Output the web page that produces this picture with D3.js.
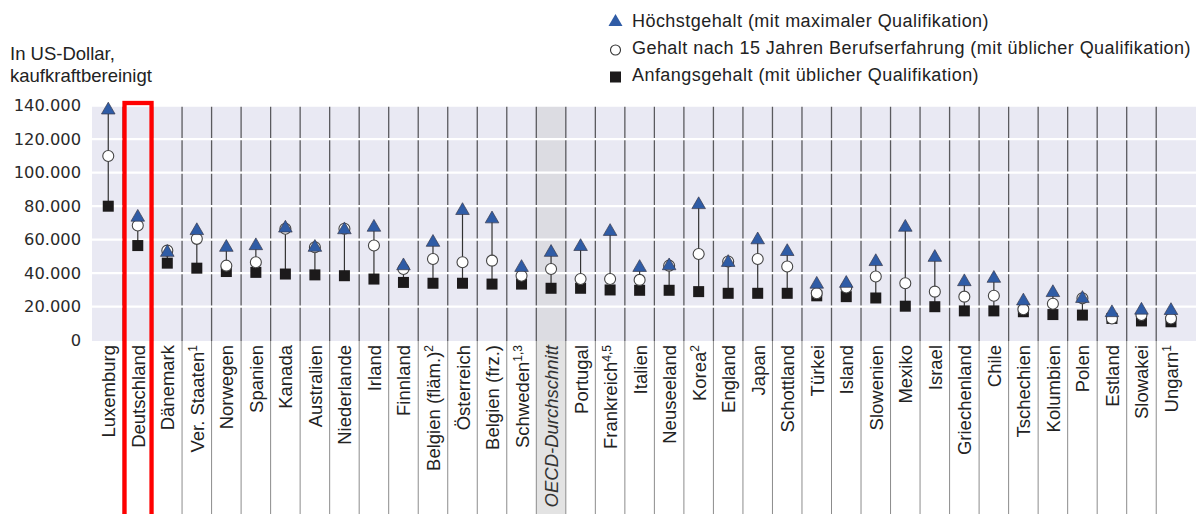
<!DOCTYPE html>
<html>
<head>
<meta charset="utf-8">
<script src="https://cdn.jsdelivr.net/npm/d3@7"></script>
<style>
  body { margin: 0; background: #fff; }
  text { font-family: "Liberation Sans", Arial, sans-serif; fill: #222; }
</style>
</head>
<body>
<div id="chart"></div>
<script>
// data
var countries = ["Luxemburg", "Deutschland", "Dänemark", "Ver. Staaten", "Norwegen", "Spanien", "Kanada",
  "Australien", "Niederlande", "Irland", "Finnland", "Belgien  (fläm.)", "Österreich", "Belgien (frz.)",
  "Schweden", "OECD-Durchschnitt", "Portugal", "Frankreich", "Italien", "Neuseeland", "Korea", "England",
  "Japan", "Schottland", "Türkei", "Island", "Slowenien", "Mexiko", "Israel", "Griechenland", "Chile",
  "Tschechien", "Kolumbien", "Polen", "Estland", "Slowakei", "Ungarn"];
var notes = ["", "", "", "1", "", "", "", "", "", "", "", "2", "", "", "1,3", "", "", "4,5", "", "", "2", "",
  "", "", "", "", "", "", "", "", "", "", "", "", "", "", "1"];
var maxSalary = [138000, 74000, 53000, 66000, 56000, 57000, 67500, 56000, 66500, 68000, 45000, 59000, 78000,
  73000, 44000, 53000, 56500, 65500, 44000, 45000, 81500, 47000, 60500, 53500, 34000, 34500, 47500, 68000,
  50000, 35500, 37500, 24000, 29000, 25500, 17000, 18500, 18300];
var exp15Salary = [110000, 68500, 53500, 60500, 44500, 46500, 66500, 55500, 66500, 56500, 42500, 48500, 46500,
  47500, 38500, 42500, 36500, 36500, 36000, 44500, 51500, 47000, 48500, 44000, 28000, 31500, 38000, 34000,
  29000, 26000, 26500, 18500, 21800, 25000, 13000, 15000, 13000];
var startSalary = [80000, 56500, 46000, 43000, 41000, 40500, 39500, 39000, 38500, 36500, 34500, 34000, 34000,
  33500, 33500, 31000, 31000, 30000, 29800, 29800, 29000, 28000, 28000, 28000, 26500, 26000, 25200, 20300,
  20000, 17500, 17500, 17000, 15300, 15000, 13000, 11500, 11000];
var yTicks = [0, 20000, 40000, 60000, 80000, 100000, 120000, 140000];
var legendLabels = ["Höchstgehalt (mit maximaler Qualifikation)",
  "Gehalt nach 15 Jahren Berufserfahrung (mit üblicher Qualifikation)",
  "Anfangsgehalt (mit üblicher Qualifikation)"];
var highlight = "Deutschland";
var average = "OECD-Durchschnitt";

var width = 1199, height = 514;
var plotLeft = 92, plotRight = 1196, plotTop = 105, plotBottom = 341;

var svg = d3.select("#chart")
  .append("svg")
    .attr("width", width)
    .attr("height", height);

var x = d3.scaleBand()
  .domain(countries)
  .range([93.5, 93.5 + 37 * 29.52]);

var y = d3.scaleLinear()
  .domain([0, 140000])
  .range([340.2, 105.7]);

var de = d3.formatLocale({decimal: ",", thousands: ".", grouping: [3], currency: ["", ""]});
var fmt = de.format(",");

// background
svg.append("rect")
  .attr("x", plotLeft).attr("y", plotTop)
  .attr("width", plotRight - plotLeft).attr("height", plotBottom - plotTop)
  .style("fill", "#e9e9f3");

// OECD column shading
svg.append("rect")
  .attr("x", x(average)).attr("y", plotTop)
  .attr("width", x.bandwidth()).attr("height", plotBottom - plotTop)
  .style("fill", "#dcdce2");
svg.append("rect")
  .attr("x", x(average)).attr("y", plotBottom)
  .attr("width", x.bandwidth()).attr("height", height - plotBottom)
  .style("fill", "#e3e3e3");

// column separators
var seps = countries.slice(1);
svg.append("g").selectAll("line.sep")
  .data(seps)
  .enter()
  .append("line")
    .attr("x1", function(d) { return x(d); })
    .attr("x2", function(d) { return x(d); })
    .attr("y1", plotTop)
    .attr("y2", plotBottom)
    .style("stroke", "#5a5a5e")
    .style("stroke-width", 1.3);
svg.append("g").selectAll("line.sep2")
  .data(seps)
  .enter()
  .append("line")
    .attr("x1", function(d) { return x(d); })
    .attr("x2", function(d) { return x(d); })
    .attr("y1", plotBottom)
    .attr("y2", height)
    .style("stroke", "#8c8c8c")
    .style("stroke-width", 1);

// gridlines
svg.append("g").selectAll("line.grid")
  .data(yTicks.slice(1))
  .enter()
  .append("line")
    .attr("x1", plotLeft).attr("x2", plotRight)
    .attr("y1", function(d) { return y(d); })
    .attr("y2", function(d) { return y(d); })
    .style("stroke", "#fff")
    .style("stroke-width", 2.2);

// y axis
var yAxis = svg.append("g")
  .attr("transform", "translate(81,0)")
  .call(d3.axisLeft(y).tickValues(yTicks).tickFormat(fmt).tickSize(0).tickPadding(0));
yAxis.select(".domain").remove();
yAxis.selectAll("text")
  .style("font-family", "'DejaVu Sans', sans-serif")
  .style("font-size", "16.3px")
  .style("fill", "#2a2a2a");

svg.append("text").attr("x", 10).attr("y", 60)
  .style("font-size", "18.5px").text("In US-Dollar,");
svg.append("text").attr("x", 10).attr("y", 82)
  .style("font-size", "18.5px").text("kaufkraftbereinigt");

// x labels
var labels = svg.append("g").selectAll("text.lab")
  .data(countries)
  .enter()
  .append("text")
    .attr("transform", function(d) {
      return "translate(" + (x(d) + x.bandwidth() / 2 + 7) + ",345) rotate(-90)";
    })
    .attr("text-anchor", "end")
    .style("font-size", "18.5px")
    .style("font-style", function(d) { return d === average ? "italic" : "normal"; })
    .style("fill", function(d) { return d === average ? "#333" : "#222"; });
labels.append("tspan").text(function(d) { return d; });
labels.append("tspan")
  .attr("dy", "-0.55em")
  .style("font-size", "12px")
  .text(function(d, i) { return notes[i]; });

// data rows
var rows = countries.map(function(c, i) {
  return {c: c, max: maxSalary[i], mid: exp15Salary[i], start: startSalary[i]};
});
var cx = function(d) { return x(d.c) + x.bandwidth() / 2; };

svg.append("g").selectAll("line.stem")
  .data(rows)
  .enter()
  .append("line")
    .attr("x1", cx).attr("x2", cx)
    .attr("y1", function(d) { return y(Math.min(d.max, d.mid, d.start)); })
    .attr("y2", function(d) { return y(Math.max(d.max, d.mid, d.start)); })
    .style("stroke", "#333")
    .style("stroke-width", 1.2);

svg.append("g").selectAll("rect.start")
  .data(rows)
  .enter()
  .append("rect")
    .attr("x", function(d) { return cx(d) - 5.5; })
    .attr("y", function(d) { return y(d.start) - 5.5; })
    .attr("width", 11).attr("height", 11)
    .style("fill", "#1c1a1b");

svg.append("g").selectAll("circle.mid")
  .data(rows)
  .enter()
  .append("circle")
    .attr("cx", cx)
    .attr("cy", function(d) { return y(d.mid); })
    .attr("r", 5.5)
    .style("fill", "#fff")
    .style("stroke", "#444")
    .style("stroke-width", 1.1);

var tri = d3.symbol().type(d3.symbolTriangle).size(80);
svg.append("g").selectAll("path.max")
  .data(rows)
  .enter()
  .append("path")
    .attr("d", tri)
    .attr("transform", function(d) { return "translate(" + cx(d) + "," + (y(d.max) + 1) + ")"; })
    .style("fill", "#2f5ca6")
    .style("stroke", "#3a3a4a")
    .style("stroke-width", 0.7);

// highlight box
svg.append("rect")
  .attr("x", x(highlight) + 1.5)
  .attr("y", 103)
  .attr("width", x.bandwidth() - 2.5)
  .attr("height", height)
  .style("fill", "none")
  .style("stroke", "#ff0000")
  .style("stroke-width", 4.3);

// legend
var legend = svg.append("g").attr("transform", "translate(615.5,0)");
legend.append("path")
  .attr("d", d3.symbol().type(d3.symbolTriangle).size(85))
  .attr("transform", "translate(0,22)")
  .style("fill", "#2f5ca6");
legend.append("circle")
  .attr("cx", 0).attr("cy", 50).attr("r", 5)
  .style("fill", "#fff").style("stroke", "#333").style("stroke-width", 1.1);
legend.append("rect")
  .attr("x", -5.5).attr("y", 71.5).attr("width", 11).attr("height", 11)
  .style("fill", "#1c1a1b");
legend.selectAll("text")
  .data(legendLabels)
  .enter()
  .append("text")
    .attr("x", 16.5)
    .attr("y", function(d, i) { return 27 + i * 27; })
    .style("font-size", "18px")
    .style("letter-spacing", "0.45px")
    .text(function(d) { return d; });
</script>
</body>
</html>
